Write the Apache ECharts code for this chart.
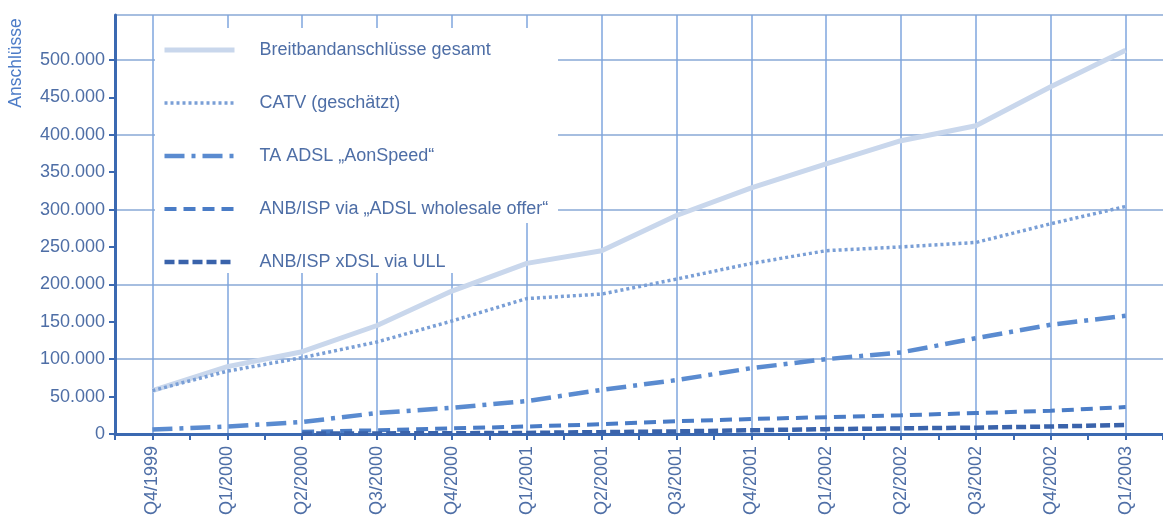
<!DOCTYPE html>
<html>
<head>
<meta charset="utf-8">
<script src="https://cdn.jsdelivr.net/npm/echarts@6/dist/echarts.min.js"></script>
<style>
html, body { margin: 0; padding: 0; background: #fff; }
#main { width: 1163px; height: 519px; }
</style>
</head>
<body>
<div id="main"></div>
<script>
'use strict';
var quarters = ['Q4/1999', 'Q1/2000', 'Q2/2000', 'Q3/2000', 'Q4/2000', 'Q1/2001', 'Q2/2001',
	'Q3/2001', 'Q4/2001', 'Q1/2002', 'Q2/2002', 'Q3/2002', 'Q4/2002', 'Q1/2003'];
var gesamt = [58000, 90000, 110000, 145000, 191000, 228000, 245000, 292000, 329000, 361000, 392000, 412000, 464000, 513000];
var catv = [58000, 84000, 102000, 123000, 151000, 181000, 187000, 207000, 228000, 245000, 250000, 256000, 281000, 304000];
var aonSpeed = [6000, 10000, 16000, 28000, 35000, 44000, 59000, 72000, 88000, 100000, 109000, 128000, 146000, 158000];
var wholesale = [null, null, 3000, 5000, 7500, 10000, 13000, 17000, 20000, 22500, 25000, 28000, 31000, 36000];
var ull = [null, null, 500, 800, 1000, 1500, 2500, 3500, 5000, 6500, 7500, 8500, 10000, 12000];
var yLabels = [0, 50000, 100000, 150000, 200000, 250000, 300000, 350000, 400000, 450000, 500000];
var names = ['Breitbandanschlüsse gesamt', 'CATV (geschätzt)', 'TA ADSL „AonSpeed“',
	'ANB/ISP via „ADSL wholesale offer“', 'ANB/ISP xDSL via ULL'];

var axisColor = '#3b69b1';
var textColor = '#4e6ea6';
var font = '"Liberation Sans", Arial, sans-serif';
// Farbe, Breite, Strichmuster je Serie
var styles = [
	['#c9d7ec', 5, 'solid'],
	['#7a9fd6', 3.5, [3, 3]],
	['#5a8bd0', 4.5, [20, 7, 4, 7]],
	['#4a7cc6', 4, [12, 7]],
	['#3a63ab', 4.5, [10, 4]]
];
var values = [gesamt, catv, aonSpeed, wholesale, ull];

var chart = echarts.init(document.getElementById('main'));
chart.setOption({
	animation: false,
	grid: { left: 115, top: 15, width: 1050, bottom: 85 },
	graphic: [
		{ type: 'rect', z: 1, shape: { x: 155, y: 28, width: 403, height: 195 }, style: { fill: '#fff' } },
		{ type: 'rect', z: 1, shape: { x: 155, y: 222, width: 335, height: 51 }, style: { fill: '#fff' } },
		{
			type: 'text', z: 5, x: 16, y: 63, rotation: Math.PI / 2,
			style: { text: 'Anschlüsse', fill: '#4d7cc7', font: '17.5px ' + font, align: 'center', verticalAlign: 'middle' }
		}
	],
	legend: {
		orient: 'vertical',
		left: 157,
		top: 36,
		itemWidth: 70,
		itemHeight: 18,
		itemGap: 35,
		itemStyle: { color: 'transparent', borderWidth: 0, opacity: 0 },
		textStyle: { color: textColor, fontSize: 18, fontFamily: font, padding: [0, 0, 0, 20] },
		data: names.map(function (n, i) {
			return { name: n, lineStyle: { width: styles[i][1], color: styles[i][0], type: styles[i][2] } };
		})
	},
	xAxis: [{
		type: 'category',
		data: quarters,
		boundaryGap: true,
		axisLine: { lineStyle: { color: axisColor, width: 3 } },
		axisTick: { show: true, length: 6, lineStyle: { color: axisColor, width: 2 } },
		axisLabel: { rotate: 90, margin: 12, color: textColor, fontSize: 18, fontFamily: font },
		splitLine: { show: false }
	}, {
		type: 'category',
		data: quarters,
		boundaryGap: true,
		position: 'bottom',
		axisLine: { show: false },
		axisTick: { show: true, alignWithLabel: true, length: 6, lineStyle: { color: axisColor, width: 2 } },
		axisLabel: { show: false },
		splitLine: { show: true, alignWithLabel: true, lineStyle: { color: '#7fa6de', width: 1.5 } }
	}],
	yAxis: [{
		type: 'value',
		min: 0,
		max: 560000,
		interval: 50000,
		axisLine: { show: true, lineStyle: { color: axisColor, width: 3 } },
		axisTick: { show: true, length: 6, customValues: yLabels, lineStyle: { color: axisColor, width: 2 } },
		axisLabel: {
			customValues: yLabels,
			margin: 10,
			color: textColor,
			fontSize: 18,
			fontFamily: font,
			formatter: function (v) { return v === 0 ? '0' : (v / 1000) + '.000'; }
		},
		splitLine: { show: false }
	}, {
		type: 'value',
		min: 0,
		max: 560000,
		interval: 100000,
		position: 'left',
		axisLine: { show: false },
		axisTick: { show: false },
		axisLabel: { show: false },
		splitLine: { show: true, lineStyle: { color: '#88a8d6', width: 1.5 } }
	}],
	series: names.map(function (n, i) {
		return {
			name: n,
			type: 'line',
			data: values[i],
			symbol: 'none',
			lineStyle: { color: styles[i][0], width: styles[i][1], type: styles[i][2], cap: 'butt' },
			itemStyle: { color: styles[i][0] }
		};
	})
});
</script>
</body>
</html>
